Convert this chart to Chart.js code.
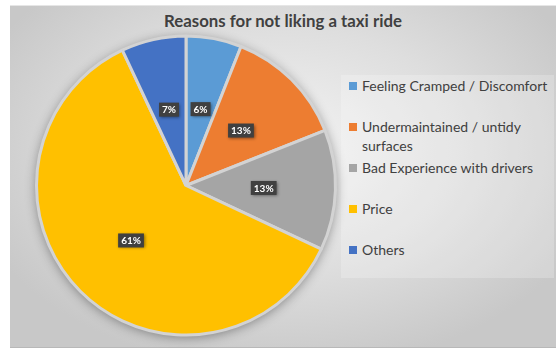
<!DOCTYPE html>
<html>
<head>
<meta charset="utf-8">
<script src="https://cdn.jsdelivr.net/npm/chart.js@4.4.1/dist/chart.umd.min.js"></script>
<style>
  html, body { margin: 0; padding: 0; background: #ffffff; }
  #wrap { position: relative; width: 556px; height: 350px; overflow: hidden; }
  #panel {
    position: absolute; left: 10px; top: 5px; width: 546px; height: 343px;
    background: radial-gradient(ellipse 60% 65% at 50% 42%, #f3f3f3 0%, #dedede 55%, #c8c8c8 100%);
    border-top: 1px solid #e6e6e6; border-bottom: 1px solid #b8b8b8;
    box-sizing: border-box;
  }
  #title {
    position: absolute; left: 10px; width: 546px; top: 10px; text-align: center;
    font-family: Lato, "Open Sans", sans-serif; font-weight: bold; font-size: 16.8px; color: #404040;
  }
  #legend {
    position: absolute; left: 341px; top: 75px; width: 213px; height: 203px;
    background: rgba(255, 255, 255, 0.22);
  }
  .item { position: absolute; left: 0; font-family: Lato, "Open Sans", sans-serif; font-size: 14px; line-height: 19px; color: #404040; }
  .item .box { position: absolute; left: 8px; top: 6px; width: 8px; height: 8px; }
  .item .txt { position: absolute; left: 21px; top: 0; width: 192px; }
  canvas { position: absolute; left: 0; top: 0; }
</style>
</head>
<body>
<div id="wrap">
  <div id="panel"></div>
  <div id="title">Reasons for not liking a taxi ride</div>
  <div id="legend"></div>
  <canvas id="pieChart" width="556" height="350"></canvas>
</div>
<script>
const reasons = [
  "Feeling Cramped / Discomfort",
  "Undermaintained / untidy surfaces",
  "Bad Experience with drivers",
  "Price",
  "Others"
];
const shares = [6, 13, 13, 61, 7];
const sliceColors = ["#5B9BD5", "#ED7D31", "#A5A5A5", "#FFC000", "#4472C4"];

// legend built by hand so long labels can wrap like the original
const legendBox = document.getElementById("legend");
reasons.forEach((name, i) => {
  let item = document.createElement("div");
  item.className = "item";
  item.style.top = (1 + i * 41) + "px";
  item.innerHTML = `<div class="box" style="background:${sliceColors[i]}"></div><div class="txt">${name}</div>`;
  legendBox.appendChild(item);
});

// soft shadow under the whole pie
const pieShadow = {
  id: 'pieShadow',
  beforeDatasetsDraw(chart) {
    let arc = chart.getDatasetMeta(0).data[0];
    if (!arc) return;
    let ctx = chart.ctx;
    ctx.save();
    ctx.shadowColor = 'rgba(0, 0, 0, 0.42)';
    ctx.shadowBlur = 12;
    ctx.shadowOffsetY = 2;
    ctx.fillStyle = '#cfcfcf';
    ctx.beginPath();
    ctx.arc(arc.x, arc.y, arc.outerRadius, 0, Math.PI * 2);
    ctx.fill();
    ctx.restore();
  }
};

// dark percentage tags inside each slice
const sliceTags = {
  id: 'sliceTags',
  afterDatasetsDraw(chart) {
    let ctx = chart.ctx;
    let values = chart.data.datasets[0].data;
    chart.getDatasetMeta(0).data.forEach((arc, i) => {
      let mid = (arc.startAngle + arc.endAngle) / 2;
      let r = arc.outerRadius * 0.52;
      let x = arc.x + Math.cos(mid) * r;
      let y = arc.y + Math.sin(mid) * r;
      let text = values[i] + "%";
      ctx.save();
      ctx.font = "bold 10px Lato, 'Open Sans', sans-serif";
      let w = ctx.measureText(text).width + 6;
      let h = 14;
      ctx.shadowColor = 'rgba(0, 0, 0, 0.45)';
      ctx.shadowBlur = 3;
      ctx.shadowOffsetX = 1;
      ctx.shadowOffsetY = 1;
      ctx.fillStyle = '#404040';
      ctx.fillRect(x - w / 2, y - h / 2, w, h);
      ctx.shadowColor = 'transparent';
      ctx.fillStyle = '#ffffff';
      ctx.textAlign = 'center';
      ctx.textBaseline = 'middle';
      ctx.fillText(text, x, y + 0.5);
      ctx.restore();
    });
  }
};

new Chart(document.getElementById("pieChart").getContext("2d"), {
  type: 'pie',
  data: {
    labels: reasons,
    datasets: [{
      data: shares,
      backgroundColor: sliceColors,
      borderColor: '#d3d3d3',
      borderWidth: 3
    }]
  },
  options: {
    responsive: false,
    animation: false,
    layout: { padding: { left: 35, right: 219, top: 34, bottom: 13 } },
    plugins: {
      legend: { display: false },
      tooltip: { enabled: false }
    }
  },
  plugins: [pieShadow, sliceTags]
});
</script>
</body>
</html>
